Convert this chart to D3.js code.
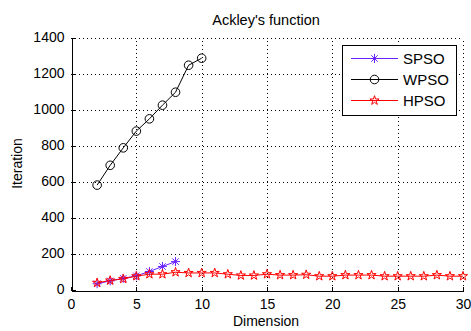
<!DOCTYPE html>
<html>
<head>
<meta charset="utf-8">
<script src="https://cdn.jsdelivr.net/npm/d3@7"></script>
<style>
  body { margin: 0; background: #fff; }
  text { font-family: "Liberation Sans", Arial, sans-serif; fill: #000; }
</style>
</head>
<body>
<script>
// data
const spsoDims = [2, 3, 4, 5, 6, 7, 8];
const spsoIter = [32, 48, 62, 76, 100, 128, 155];

const wpsoDims = [2, 3, 4, 5, 6, 7, 8, 9, 10];
const wpsoIter = [580, 690, 787, 880, 948, 1024, 1096, 1246, 1285];

const hpsoDims = d3.range(2, 31);
const hpsoIter = [37, 50, 59, 74, 85, 85, 96, 92, 92, 92, 85, 78, 78, 85, 80,
                  80, 82, 74, 74, 80, 80, 80, 74, 74, 74, 74, 80, 74, 74];

const xTicks = [0, 5, 10, 15, 20, 25, 30];
const yTicks = [0, 200, 400, 600, 800, 1000, 1200, 1400];

const series = [
  {name: 'SPSO', dims: spsoDims, vals: spsoIter, color: '#6a22ff', marker: 'asterisk'},
  {name: 'WPSO', dims: wpsoDims, vals: wpsoIter, color: '#000000', marker: 'circle'},
  {name: 'HPSO', dims: hpsoDims, vals: hpsoIter, color: '#ff0000', marker: 'star'}
];

// plot box
const pLeft = 71, pRight = 463, pTop = 37.5, pBottom = 289.5;
const W = 471, H = 331;

const x = d3.scaleLinear().domain([0, 30]).range([pLeft, pRight]);
const y = d3.scaleLinear().domain([0, 1400]).range([pBottom, pTop]);

const svg = d3.select('body').append('svg')
  .attr('width', W).attr('height', H);

// dotted grid
const grid = svg.append('g')
  .attr('stroke', '#000').attr('stroke-width', 1)
  .attr('stroke-dasharray', '1,3').attr('shape-rendering', 'crispEdges');
grid.selectAll('.gx').data(xTicks.slice(1)).enter().append('line')
  .attr('x1', d => Math.round(x(d)) + 0.5).attr('x2', d => Math.round(x(d)) + 0.5)
  .attr('y1', pBottom).attr('y2', pTop);
grid.selectAll('.gy').data(yTicks.slice(1)).enter().append('line')
  .attr('y1', d => Math.round(y(d)) + 0.5).attr('y2', d => Math.round(y(d)) + 0.5)
  .attr('x1', pLeft).attr('x2', pRight);

// axes, ticks pointing inward like matlab
const xAxis = svg.append('g')
  .attr('transform', `translate(0,${Math.round(pBottom) + 0.5})`)
  .call(d3.axisBottom(x).tickValues(xTicks).tickFormat(d3.format('d'))
    .tickSizeInner(-4).tickSizeOuter(0).tickPadding(9));
const yAxis = svg.append('g')
  .attr('transform', `translate(${pLeft + 0.5},0)`)
  .call(d3.axisLeft(y).tickValues(yTicks).tickFormat(d3.format('d'))
    .tickSizeInner(-4).tickSizeOuter(0).tickPadding(7));

[xAxis, yAxis].forEach(a => {
  a.selectAll('path, line').attr('stroke', '#000').attr('shape-rendering', 'crispEdges');
  a.selectAll('text').style('font-size', '14px').style('font-family', '"Liberation Sans", Arial, sans-serif');
});

// lines and markers
const line = d3.line().x(d => x(d[0])).y(d => y(d[1]));
const starPath = d3.symbol().type(d3.symbolStar).size(26)();
const asteriskPath = 'M-4.5,0H4.5M0,-4.5V4.5M-3.2,-3.2L3.2,3.2M-3.2,3.2L3.2,-3.2';

function drawMarker(g, kind, color) {
  if (kind === 'circle') {
    g.append('circle').attr('r', 4.3).attr('fill', 'none').attr('stroke', color);
  } else if (kind === 'star') {
    g.append('path').attr('d', starPath).attr('fill', 'none').attr('stroke', color);
  } else {
    g.append('path').attr('d', asteriskPath).attr('fill', 'none').attr('stroke', color);
  }
}

series.forEach(s => {
  const pts = s.dims.map((d, i) => [d, s.vals[i]]);
  svg.append('path').datum(pts)
    .attr('d', line).attr('fill', 'none')
    .attr('stroke', s.color).attr('stroke-width', 1);
  pts.forEach(p => {
    const g = svg.append('g').attr('transform', `translate(${x(p[0])},${y(p[1])})`);
    drawMarker(g, s.marker, s.color);
  });
});

// title and axis labels
svg.append('text').attr('x', 266).attr('y', 25)
  .attr('text-anchor', 'middle').style('font-size', '14.5px')
  .text("Ackley's function");
svg.append('text').attr('x', 266).attr('y', 326)
  .attr('text-anchor', 'middle').style('font-size', '14px')
  .text('Dimension');
svg.append('text')
  .attr('transform', `translate(22,${(pTop + pBottom) / 2}) rotate(-90)`)
  .attr('text-anchor', 'middle').style('font-size', '14px')
  .text('Iteration');

// legend
const legend = svg.append('g');
legend.append('rect')
  .attr('x', 342.5).attr('y', 45.5).attr('width', 114).attr('height', 70)
  .attr('fill', '#fff').attr('stroke', '#000');
series.forEach((s, i) => {
  const ly = 58.5 + i * 21;
  legend.append('line')
    .attr('x1', 351).attr('x2', 398).attr('y1', ly).attr('y2', ly)
    .attr('stroke', s.color);
  const g = legend.append('g').attr('transform', `translate(374.5,${ly})`);
  drawMarker(g, s.marker, s.color);
  legend.append('text').attr('x', 403).attr('y', ly + 5.5)
    .style('font-size', '15px').text(s.name);
});
</script>
</body>
</html>
